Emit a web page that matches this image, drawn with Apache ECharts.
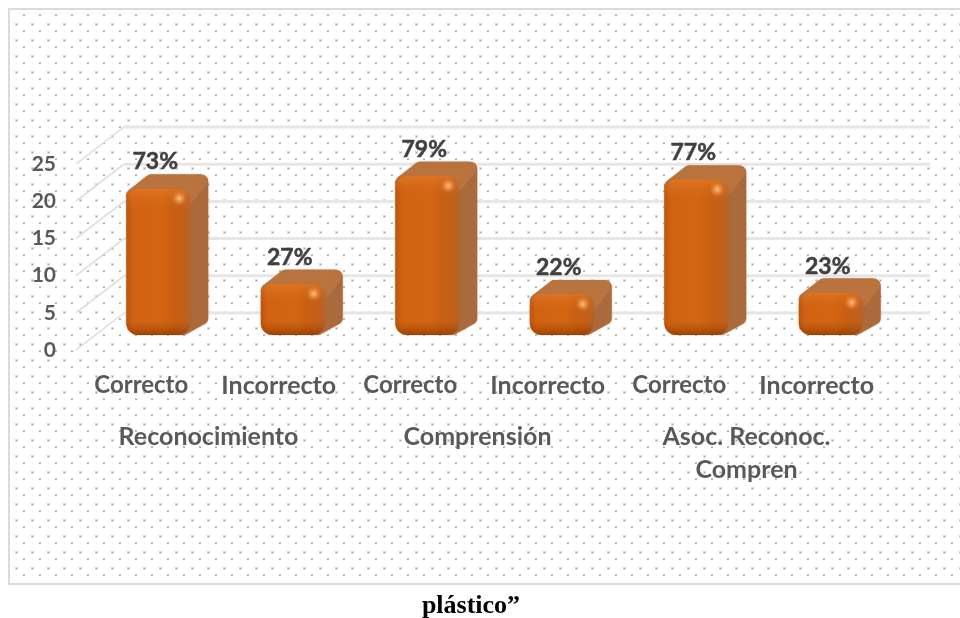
<!DOCTYPE html>
<html><head><meta charset="utf-8">
<style>html,body{margin:0;padding:0;background:#fff;overflow:hidden}#c{width:960px;height:618px}</style>
<script src="https://cdn.jsdelivr.net/npm/echarts@6/dist/echarts.min.js"></script>
</head><body><div id="c"></div>
<script>
const categories = ['Correcto','Incorrecto','Correcto','Incorrecto','Correcto','Incorrecto'];
const groups = ['Reconocimiento','Comprensión','Asoc. Reconoc.\nCompren'];
const values = [19.7, 6.9, 21.4, 5.5, 20.9, 5.7];
const percentLabels = ['73%','27%','79%','22%','77%','23%'];
const ticks = [0, 5, 10, 15, 20, 25];
const caption = 'plástico”';

const FONT = 'Lato, "Open Sans", sans-serif';
const WALL = {dx: 48, dy: -37};
const BAR = {ox: 17, oy: -15, w: 64, dx: 18, dy: -14, r: 12};

const pat = document.createElement('canvas');
pat.width = 16; pat.height = 16;
const g = pat.getContext('2d');
g.fillStyle = 'rgba(120,120,120,0.6)'; g.fillRect(7, 15, 2, 1);
g.fillStyle = 'rgba(120,120,120,0.4)'; g.fillRect(7, 14, 2, 1);
g.fillStyle = 'rgba(140,140,140,0.32)'; g.fillRect(15, 7, 3, 3); g.fillRect(-1, 7, 3, 3);
g.fillStyle = 'rgba(120,120,120,0.55)'; g.fillRect(0, 8, 1, 1);

function wallItem(params, api){
  const cs = params.coordSys;
  const y = api.coord([0, api.value(1)])[1];
  const x0 = cs.x + 2, xb = x0 + WALL.dx, yb = y + WALL.dy, xe = 930;
  return {type: 'group', silent: true, children: [
    {type: 'line', shape: {x1: x0, y1: y, x2: xb, y2: yb}, style: {stroke: '#dcdcdc', lineWidth: 1.5}},
    {type: 'line', shape: {x1: xb, y1: yb, x2: xe, y2: yb}, style: {stroke: '#e6e6e6', lineWidth: 3}}
  ]};
}

function barItem(params, api){
  const idx = api.value(0);
  const top = api.coord([idx, api.value(1)]);
  const base = api.coord([idx, 0]);
  const cx = top[0] + BAR.ox;
  const x = cx - BAR.w / 2, w = BAR.w;
  const yT = top[1] + BAR.oy, yB = base[1] + BAR.oy;
  const h = yB - yT, dx = BAR.dx, dy = BAR.dy, r = BAR.r, s = 7;
  const lin = (a, b, c, d, stops) => ({type: 'linear', x: a, y: b, x2: c, y2: d,
    colorStops: stops.map(t => ({offset: t[0], color: t[1]}))});
  return {type: 'group', silent: true, children: [
    {type: 'polygon', shape: {points: [[x+s,yT+s],[x+dx+s,yT+dy+s],[x+w+dx-s,yT+dy+s],[x+w+dx-s,yB+dy-s+4],[x+w-s,yB-s]]},
      style: {fill: '#aa6a3c', stroke: '#aa6a3c', lineWidth: 2*s, lineJoin: 'round',
        shadowBlur: 2, shadowColor: 'rgba(170,110,70,0.5)'}},
    {type: 'polygon', shape: {points: [[x+s,yT+s+1],[x+dx+s,yT+dy+s],[x+w+dx-s-1,yT+dy+s],[x+w-2,yT+s+1]]},
      style: {fill: lin(0,0,0,1,[[0,'#bb7c50'],[1,'#b96d33']]), stroke: '#b9743f', lineWidth: 2*s, lineJoin: 'round', opacity: 0.95}},
    {type: 'rect', shape: {x: x, y: yT, width: w, height: h, r: r},
      style: {fill: lin(0,0,1,0,[[0,'#b9560f'],[0.1,'#d06212'],[0.55,'#d36513'],[0.72,'#c95f12'],[0.9,'#c25f1a'],[1,'#b4642a']]),
        shadowBlur: 1.5, shadowColor: 'rgba(190,90,20,0.6)'}},
    {type: 'rect', shape: {x: x, y: yT, width: w, height: h, r: r},
      style: {fill: lin(0,0,0,1,[[0,'rgba(235,140,60,0.45)'],[Math.min(0.4, 22/h),'rgba(215,100,20,0)'],[Math.max(0.6, 1-14/h),'rgba(170,70,0,0)'],[1,'rgba(120,50,0,0.65)']])}},
    {type: 'circle', shape: {cx: x+w-11, cy: yT+10, r: 8},
      style: {fill: {type: 'radial', x: 0.5, y: 0.5, r: 0.5, colorStops: [{offset: 0, color: 'rgba(255,210,150,0.85)'},{offset: 0.45, color: 'rgba(250,170,90,0.55)'},{offset: 1, color: 'rgba(230,120,40,0)'}]}}},
    {type: 'text', style: {x: cx - 3, y: yT + dy - 1, text: percentLabels[params.dataIndex], align: 'center', verticalAlign: 'bottom',
      font: 'bold 23px ' + FONT, fill: '#404040', stroke: '#404040', lineWidth: 0.5}}
  ]};
}

const chart = echarts.init(document.getElementById('c'), null, {renderer: 'canvas'});
chart.setOption({
  animation: false,
  backgroundColor: '#fff',
  graphic: [{type: 'rect', z: -10, silent: true, shape: {x: 9, y: 9, width: 960, height: 575},
    style: {fill: {image: pat, repeat: 'repeat'}, stroke: '#dcdcdc', lineWidth: 2}}],
  title: {text: caption, left: 466, top: 588, textAlign: 'center',
    textStyle: {fontFamily: '"Liberation Serif", serif', fontSize: 26, fontWeight: 'bold', color: '#000'}},
  grid: {left: 74, width: 807, top: 164, height: 186},
  xAxis: [
    {type: 'category', data: categories, position: 'bottom', axisLine: {show: false}, axisTick: {show: false},
      axisLabel: {interval: 0, margin: 23, fontFamily: FONT, fontSize: 24, fontWeight: 'bold', color: '#595959',
        formatter: v => v === 'Incorrecto' ? '{i|' + v + '}' : v,
        rich: {i: {fontFamily: FONT, fontSize: 25, fontWeight: 'bold', color: '#595959', padding: [0, 0, 2, 6]}}}},
    {type: 'category', data: groups, position: 'bottom', offset: 70, axisLine: {show: false}, axisTick: {show: false},
      axisLabel: {interval: 0, margin: 0, lineHeight: 33, fontFamily: FONT, fontSize: 25, fontWeight: 'bold', color: '#595959'}}
  ],
  yAxis: {type: 'value', min: 0, max: 25, interval: 5, axisLine: {show: false}, axisTick: {show: false}, splitLine: {show: false},
    axisLabel: {margin: 18, fontFamily: FONT, fontSize: 21, fontWeight: 'bold', color: '#595959'}},
  series: [
    {type: 'custom', name: 'wall', z: 1, renderItem: wallItem, data: ticks.map(t => [0, t]), encode: {x: 0, y: 1}, silent: true},
    {type: 'custom', name: 'values', z: 2, renderItem: barItem, data: values.map((v, i) => [i, v]), encode: {x: 0, y: 1}, silent: true}
  ]
});
</script></body></html>
